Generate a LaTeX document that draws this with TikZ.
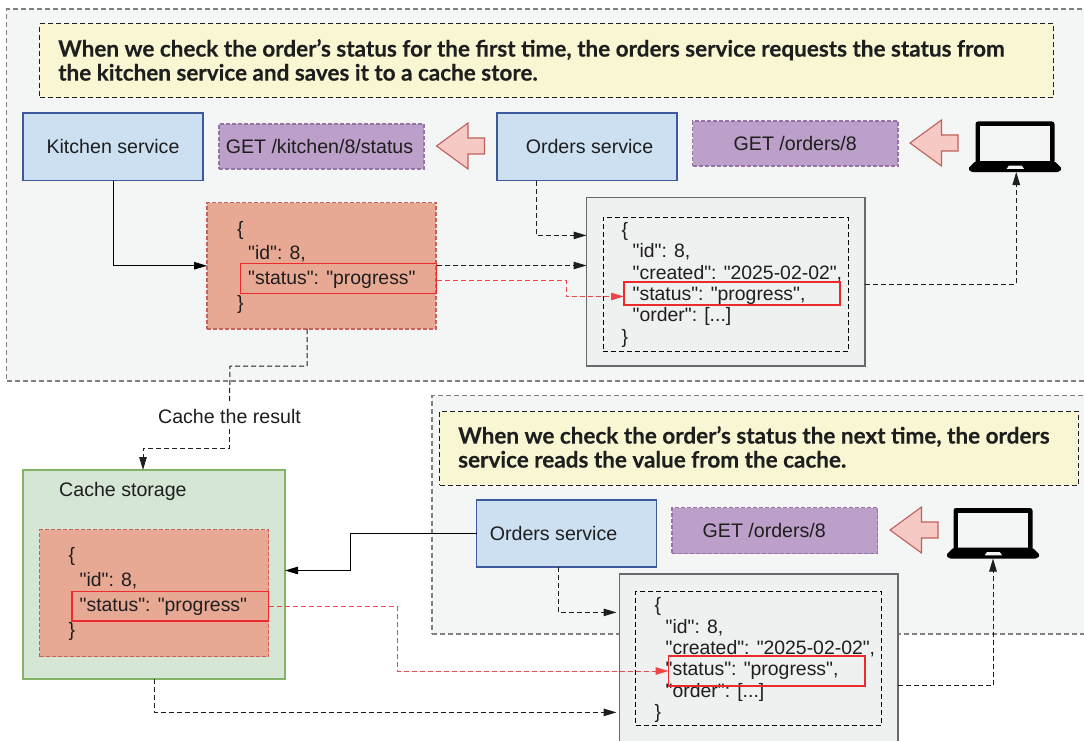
\documentclass[tikz,border=0pt]{standalone}
\usepackage{fontspec}
\setmainfont{Liberation Sans}
\newfontfamily\codefont{Liberation Sans}
\newfontfamily\headfont{Lato}[BoldFont=* Bold,BoldFeatures={FakeBold=0.25}]
\usetikzlibrary{arrows.meta}
\definecolor{panelc}{HTML}{F4F6F5}
\definecolor{panelb}{HTML}{808080}
\definecolor{yellowc}{HTML}{F9F7D3}
\definecolor{bluec}{HTML}{CCE0F2}
\definecolor{blueb}{HTML}{3F5A9C}
\definecolor{purplec}{HTML}{BCA0C9}
\definecolor{purpleb}{HTML}{9673A6}
\definecolor{pinkc}{HTML}{F6C9C5}
\definecolor{pinkb}{HTML}{C0605A}
\definecolor{jsonc}{HTML}{E8A994}
\definecolor{jsonb}{HTML}{C8605C}
\definecolor{redl}{HTML}{EC2A2E}
\definecolor{redd}{HTML}{F2454A}
\definecolor{grayc}{HTML}{EFF0F0}
\definecolor{grayb}{HTML}{666A6E}
\definecolor{greenc}{HTML}{D5E6D4}
\definecolor{greenb}{HTML}{82B366}
\definecolor{inkc}{HTML}{1E1E1E}
\newcommand\bx[7]{\node[#6,inner sep=0pt,outer sep=0pt,minimum width={(#4-#2)*1pt},minimum height={(#5-#3)*1pt}] (#1) at ({(#2+#4)/2},{(#3+#5)/2}) {#7};}
\newcommand\sz[1]{\fontsize{19.6}{#1}\selectfont}
\newcommand\cz[1]{\codefont\fontsize{19.4}{#1}\selectfont}
\tikzset{
  x=1pt,y=-1pt,
  panel/.style={draw=panelb,fill=panelc,line width=1.1pt,dash pattern=on 5pt off 3pt},
  note/.style={draw=inkc,fill=yellowc,line width=1pt,dash pattern=on 5pt off 3pt},
  svc/.style={draw=blueb,fill=bluec,line width=1.2pt,text=inkc,font=\sz{24}},
  req/.style={draw=purpleb,fill=purplec,line width=1.1pt,dash pattern=on 4pt off 2pt,text=inkc,font=\sz{24}},
  jsonbox/.style={draw=jsonb,fill=jsonc,line width=1.1pt,dash pattern=on 4pt off 2pt},
  field/.style={draw=redl,line width=1.2pt},
  resp/.style={draw=grayb,fill=grayc,line width=1.2pt},
  respin/.style={draw=black,line width=1pt,dash pattern=on 5pt off 3pt},
  store/.style={draw=greenb,fill=greenc,line width=1.2pt},
  ghost/.style={},
  code/.style={anchor=north west,inner sep=0pt,align=left,text=inkc},
  plain/.style={inner sep=0pt,text=inkc,font=\sz{24}},
  head/.style={anchor=west,inner sep=0pt,align=left,text=inkc,font=\headfont\bfseries\fontsize{22.5}{24}\selectfont},
  tip/.style={-{Triangle[length=13pt,width=7.5pt]}},
  solidc/.style={tip,draw=black,line width=1pt},
  dashc/.style={tip,draw=inkc,line width=1pt,dash pattern=on 5pt off 3pt},
  redc/.style={-{Triangle[length=13pt,width=7.5pt]},draw=redd,line width=1pt,dash pattern=on 5pt off 3pt},
  blockarrow/.pic={\draw[draw=pinkb,fill=pinkc,line width=1.1pt,line join=miter] (0,0) -- (31.5,-23) -- (31.5,-8) -- (48,-8) -- (48,8) -- (31.5,8) -- (31.5,23) -- cycle;},
  laptop/.pic={
    \fill[black,rounded corners=2.5pt] (7.5,0) rectangle (86.5,42);
    \fill[panelc] (12,4.5) rectangle (82,39.7);
    \fill[black,rounded corners=1.5pt] (7.5,39.7) -- (86.5,39.7) -- (94,47) -- (91,50.5) -- (3,50.5) -- (0,47) -- cycle;
    \fill[panelc] (38.7,47.3) -- (41,44) -- (53.7,44) -- (56,47.3) -- cycle;
  }
}
\begin{document}
\begin{tikzpicture}
\clip (0,0) rectangle (1084,741);
\fill[white] (0,0) rectangle (1084,741);
% panels
\bx{panelA}{6.5}{9}{1090}{381}{panel}{}
\bx{panelB}{432}{395.5}{1090}{634}{panel}{}
% notes
\bx{noteA}{39.5}{24}{1053}{98}{note}{}
\node[head] (headA) at (58,60) {When we check the order’s status for the first time, the orders service requests the status from\\the kitchen service and saves it to a cache store.};
\bx{noteB}{439.5}{411}{1078}{485}{note}{}
\node[head] (headB) at (458,447) {When we check the order’s status the next time, the orders\\service reads the value from the cache.};
% top row
\bx{kitchen}{23}{113}{203}{180.5}{svc}{Kitchen service}
\bx{getK}{219}{124}{424}{169}{req}{\hspace*{-4pt}GET /kitchen/8/status}
\pic at (436.5,146) {blockarrow};
\bx{ordersA}{497}{113}{677}{180.5}{svc}{\hspace*{5pt}Orders service}
\bx{getA}{692.5}{121}{898}{166}{req}{GET /orders/8}
\pic at (910,143) {blockarrow};
\pic at (968,121.5) {laptop};
\bx{laptopA}{968}{121.5}{1062}{172}{ghost}{}
% first json
\bx{jsonA}{207}{202.5}{436}{329}{jsonbox}{}
\node[code,font=\cz{24.6}] (codeA) at (237,221) {\{\\\hspace*{11pt}"id": 8,\\\hspace*{11pt}"status": "progress"\\\}};
\bx{fieldA}{240.5}{263.5}{436.5}{293.5}{field}{}
% first response
\bx{respA}{586.5}{197.5}{865}{366}{resp}{}
\bx{respAin}{603}{217}{848.5}{351}{respin}{}
\node[code,font=\cz{21.4}] (codeB) at (621.5,222) {\{\\\hspace*{11pt}"id": 8,\\\hspace*{11pt}"created": "2025-02-02",\\\hspace*{11pt}"status": "progress",\\\hspace*{11pt}"order": [...]\\\}};
\bx{fieldB}{624}{282}{840}{305}{field}{}
% cache
\bx{cache}{23}{470}{285}{679}{store}{}
\node[plain,anchor=west] (cacheT) at (59,491) {Cache storage};
\bx{jsonC}{39.5}{529.5}{268.5}{656.5}{jsonbox}{}
\node[code,font=\cz{25}] (codeC) at (68.5,547.5) {\{\\\hspace*{11pt}"id": 8,\\\hspace*{11pt}"status": "progress"\\\}};
\bx{fieldC}{72}{591.5}{268.5}{621}{field}{}
\node[plain,minimum height=25pt] (cacheL) at (229.5,416) {Cache the result};
% bottom row
\bx{ordersB}{476.5}{500}{656.7}{567}{svc}{\hspace*{-26pt}Orders service}
\bx{getB}{672}{507.5}{877.5}{553.5}{req}{\hspace*{-21pt}GET /orders/8}
\pic at (890,530) {blockarrow};
\pic at (946,508) {laptop};
\bx{laptopB}{946}{508}{1040}{558.5}{ghost}{}
% second response
\bx{respB}{619.5}{574}{898}{760}{resp}{}
\bx{respBin}{635.5}{591.5}{881.5}{725}{respin}{}
\node[code,font=\cz{21.4}] (codeD) at (654.5,597.5) {\{\\\hspace*{11pt}"id": 8,\\\hspace*{11pt}"created": "2025-02-02",\\\hspace*{11pt}"status": "progress",\\\hspace*{11pt}"order": [...]\\\}};
\bx{fieldD}{668.5}{656}{865}{686}{field}{}
% helper bends
\coordinate (bendA) at (566,296.5);
\coordinate (bendB) at (397,671);
\coordinate (bendC1) at (230,366);
\coordinate (bendC2) at (143,448);
\coordinate (bendD) at (350.5,570.5);
\coordinate (portE) at ([xshift=-3pt]respB.west |- 0,712.4);
\coordinate (portF) at ([xshift=-3pt]respB.west |- 0,612.4);
% connectors
\draw[solidc] (kitchen.south) |- (jsonA.west);
\draw[dashc] ([xshift=-50.4pt]ordersA.south) |- ([yshift=46.35pt]respA.west);
\draw[dashc] ([yshift=13pt]fieldA.east) -- ([yshift=16.25pt]respA.west);
\draw[redc] ([yshift=-1.5pt]fieldA.east) -| (bendA) -- ([yshift=-3pt]fieldB.west);
\draw[dashc] ([yshift=-2.25pt]respA.east) -| ([xshift=1.25pt]laptopA.south);
\draw[dashc,-] ([xshift=-14.5pt]jsonA.south) |- (bendC1) -- (cacheL.north);
\draw[dashc] (cacheL.south) |- (bendC2) -- ([xshift=-11pt]cache.north);
\draw[solidc] (ordersB.west) -| (bendD) -- (bendD -| cache.east);
\draw[redc] (fieldC.east) -| (bendB) -- (fieldD.west);
\draw[dashc] (cache.south) |- (portE);
\draw[dashc] ([xshift=-8.6pt]ordersB.south) |- (portF);
\draw[dashc] ([yshift=-18.7pt]respB.east |- 0,667) -| (laptopB.south);
\end{tikzpicture}
\end{document}
